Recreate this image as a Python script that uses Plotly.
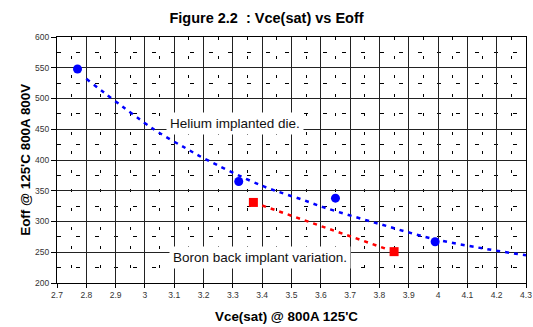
import plotly.graph_objects as go

# Data
helium_x = [2.77, 3.32, 3.65, 3.99]
helium_y = [548, 365, 338, 267]
helium_trend_x = [2.80, 3.03, 3.14, 3.20, 3.40, 3.54, 3.61, 3.80, 4.00, 4.30]
helium_trend_y = [532, 450, 419, 403, 358, 335, 323, 296, 270, 245]

boron_x = [3.37, 3.85]
boron_y = [331, 251]
boron_trend_x = [3.40, 3.82]
boron_trend_y = [326, 256]

x_tick_vals = [2.7, 2.8, 2.9, 3.0, 3.1, 3.2, 3.3, 3.4, 3.5, 3.6, 3.7, 3.8, 3.9, 4.0, 4.1, 4.2, 4.3]
x_tick_text = ["2.7", "2.8", "2.9", "3", "3.1", "3.2", "3.3", "3.4", "3.5", "3.6", "3.7",
               "3.8", "3.9", "4", "4.1", "4.2", "4.3"]
y_tick_vals = [200, 250, 300, 350, 400, 450, 500, 550, 600]
y_tick_text = [str(v) for v in y_tick_vals]

FONT = "Liberation Sans, Arial, sans-serif"

fig = go.Figure()
fig.add_trace(go.Scatter(x=helium_trend_x, y=helium_trend_y, mode="lines",
                         line=dict(color="#0000FF", width=2.5, dash="4px,5px", shape="spline"),
                         showlegend=False, hoverinfo="skip"))
fig.add_trace(go.Scatter(x=boron_trend_x, y=boron_trend_y, mode="lines",
                         line=dict(color="#FF0000", width=2.5, dash="4px,5px"),
                         showlegend=False, hoverinfo="skip"))
fig.add_trace(go.Scatter(x=helium_x, y=helium_y, mode="markers",
                         marker=dict(color="#0000FF", size=9, symbol="circle"),
                         showlegend=False))
fig.add_trace(go.Scatter(x=boron_x, y=boron_y, mode="markers",
                         marker=dict(color="#FF0000", size=9, symbol="square"),
                         showlegend=False))

fig.add_annotation(x=3.306, y=459.5, xref="x", yref="y", text="Helium implanted die.",
                   showarrow=False, bgcolor="white", borderpad=3,
                   font=dict(family=FONT, size=13.5, color="#111"))
fig.add_annotation(x=3.391, y=241, xref="x", yref="y", text="Boron back implant variation.",
                   showarrow=False, bgcolor="white", borderpad=3,
                   font=dict(family=FONT, size=13.5, color="#111"))

# axis titles
fig.add_annotation(x=0.49, y=-0.138, xref="paper", yref="paper", yanchor="middle",
                   text="<b>Vce(sat) @ 800A 125'C</b>", showarrow=False,
                   font=dict(size=13.4, family=FONT, color="#000"))
fig.add_annotation(x=-0.089, y=0.5, xref="paper", yref="paper", textangle=-90,
                   text="<b>Eoff @ 125'C 800A 800V</b>", showarrow=False,
                   font=dict(size=13.4, family=FONT, color="#000"))

fig.update_layout(
    width=533, height=327,
    margin=dict(l=57, r=7, t=37, b=44, autoexpand=False),
    paper_bgcolor="white", plot_bgcolor="white",
    font=dict(family=FONT, color="#000"),
    title=dict(text="<b>Figure 2.2 \u00a0: Vce(sat) vs Eoff</b>", x=0.5, xanchor="center",
               y=1 - 18 / 327, yanchor="middle", font=dict(size=14.5, family=FONT, color="#000")),
    showlegend=False,
)
fig.update_xaxes(
    range=[2.7, 4.3], tickvals=x_tick_vals, ticktext=x_tick_text, automargin=False,
    tickfont=dict(size=8.5, color="#333", family=FONT),
    ticks="outside", ticklen=4, tickcolor="#000",
    showline=True, linecolor="#000", linewidth=1, mirror=True,
    showgrid=True, gridcolor="#222", gridwidth=1,
    minor=dict(dtick=0.05, tick0=2.7, showgrid=True, gridcolor="#000", gridwidth=1, griddash="3px,16px"),
    zeroline=False,
)
fig.update_yaxes(
    range=[200, 600], tickvals=y_tick_vals, ticktext=y_tick_text, automargin=False,
    tickfont=dict(size=8.5, color="#333", family=FONT),
    ticks="outside", ticklen=5, tickcolor="#000",
    showline=True, linecolor="#000", linewidth=1, mirror=True,
    showgrid=True, gridcolor="#222", gridwidth=1,
    minor=dict(dtick=25, tick0=200, showgrid=True, gridcolor="#000", gridwidth=1, griddash="4px,15px"),
    zeroline=False,
)

fig.write_html("out.html", config={"displayModeBar": False},
               post_script="document.body.style.margin='0';")
